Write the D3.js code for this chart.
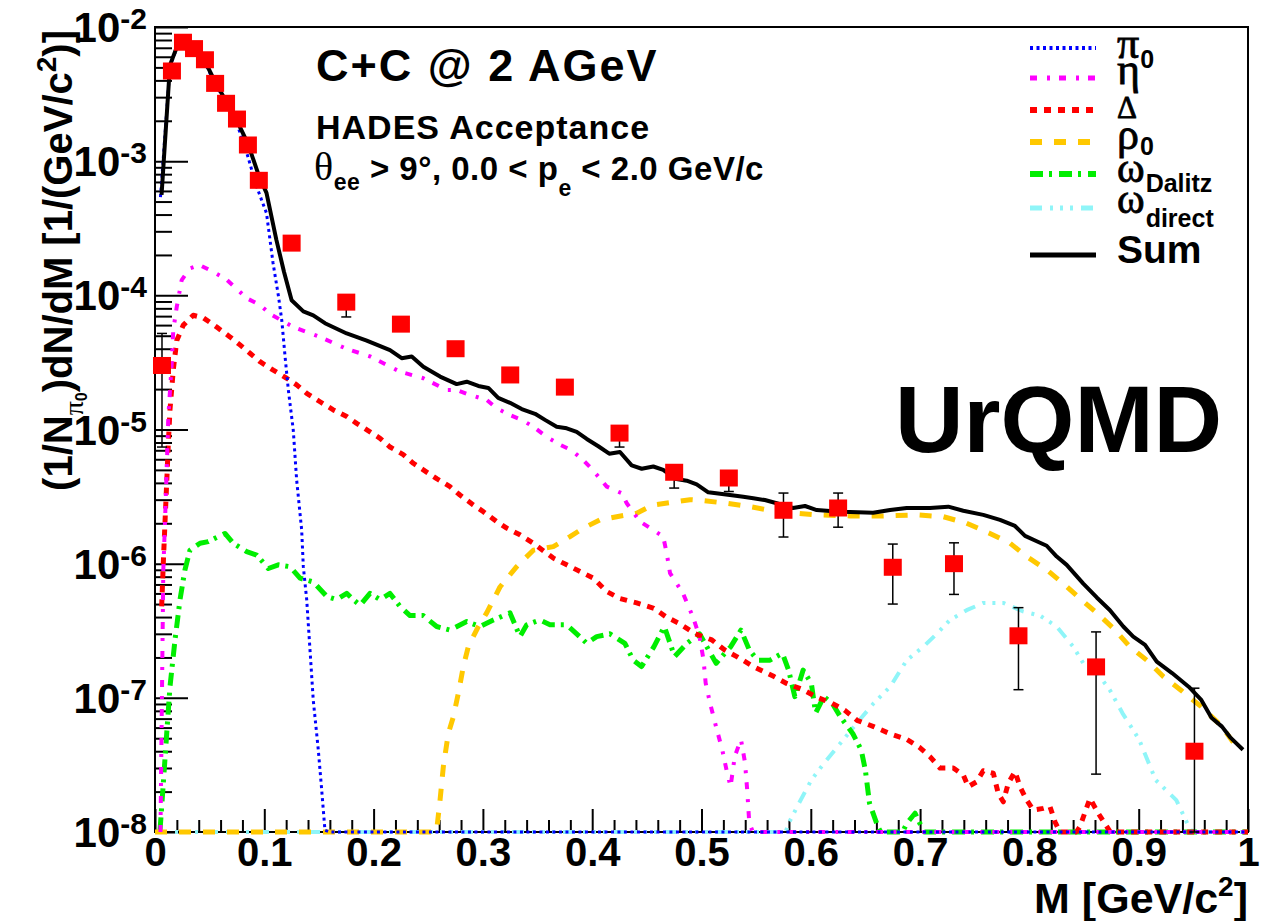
<!DOCTYPE html>
<html>
<head>
<meta charset="utf-8">
<script src="https://cdn.jsdelivr.net/npm/d3@7"></script>
<style>
	body { margin: 0; background: #fff; }
	svg { display: block; font-family: "Liberation Sans", Arial, sans-serif; font-weight: bold; }
	.greek { font-family: "Liberation Serif", "DejaVu Serif", serif; font-weight: normal; }
</style>
</head>
<body>
<svg id="chart" width="1277" height="921"></svg>
<script>
// invariant mass spectra, [M (GeV/c^2), dN/dM]
var piZeroCurve = [[0.005,5.4e-4],[0.0137,5.1e-3],[0.02,7.0e-3],[0.025,7.8e-3],[0.03,7.7e-3],[0.035,6.8e-3],[0.045,5.5e-3],[0.055,3.8e-3],[0.065,2.65e-3],[0.075,1.9e-3],[0.084,1.15e-3],[0.093,6.45e-4],[0.102,4.1e-4],[0.108,1.74e-4],[0.113,9.8e-5],[0.116,6.5e-5],[0.119,3.5e-5],[0.122,1.97e-5],[0.1265,9.9e-6],[0.1296,4.2e-6],[0.1342,1.78e-6],[0.1357,9.5e-7],[0.1388,5.4e-7],[0.1418,2.28e-7],[0.1448,9.6e-8],[0.1494,4.1e-8],[0.1525,2.06e-8],[0.1555,1.03e-8],[0.16,0],[1.0,0]];
var etaCurve = [[0.005,0],[0.0076,9e-7],[0.0091,2.0e-6],[0.0107,5.0e-6],[0.0122,1.24e-5],[0.0153,3.1e-5],[0.0167,5.5e-5],[0.0199,8.2e-5],[0.0244,1.3e-4],[0.032,1.59e-4],[0.041,1.68e-4],[0.053,1.5e-4],[0.066,1.3e-4],[0.084,9.5e-5],[0.096,8.5e-5],[0.105,7.3e-5],[0.1265,5.8e-5],[0.151,4.9e-5],[0.175,4.0e-5],[0.197,3.5e-5],[0.224,2.7e-5],[0.2455,2.41e-5],[0.2669,1.97e-5],[0.276,1.97e-5],[0.2882,1.81e-5],[0.3035,1.66e-5],[0.3126,1.44e-5],[0.3248,1.28e-5],[0.3355,1.18e-5],[0.3461,1.05e-5],[0.3584,8.8e-6],[0.3705,7.7e-6],[0.3812,7.0e-6],[0.3919,5.9e-6],[0.3995,5.1e-6],[0.4133,3.75e-6],[0.427,3.35e-6],[0.4316,2.82e-6],[0.4437,2.06e-6],[0.4559,1.78e-6],[0.465,1.59e-6],[0.4682,1.19e-6],[0.4712,8.5e-7],[0.4831,6.0e-7],[0.4922,4.0e-7],[0.4982,2.86e-7],[0.5019,1.91e-7],[0.5038,1.29e-7],[0.5077,9.2e-8],[0.5133,6.1e-8],[0.519,4.1e-8],[0.5229,2.9e-8],[0.5266,2.18e-8],[0.5304,3.65e-8],[0.5361,4.9e-8],[0.5398,3.3e-8],[0.5418,2.06e-8],[0.5437,1.17e-8],[0.547,0],[1.0,0]];
var deltaCurve = [[0.0061,4.8e-7],[0.0076,1.01e-6],[0.0091,2.0e-6],[0.0107,4.0e-6],[0.0122,7.9e-6],[0.0137,1.4e-5],[0.0167,2.77e-5],[0.0199,4.6e-5],[0.0259,6.0e-5],[0.035,7.1e-5],[0.0442,6.8e-5],[0.0565,5.8e-5],[0.0686,4.9e-5],[0.0778,4.27e-5],[0.0869,3.7e-5],[0.0961,3.2e-5],[0.1082,2.77e-5],[0.1205,2.41e-5],[0.1296,2.15e-5],[0.1388,1.86e-5],[0.151,1.61e-5],[0.1631,1.4e-5],[0.1754,1.25e-5],[0.1845,1.11e-5],[0.1967,9.6e-6],[0.2059,8.6e-6],[0.215,7.4e-6],[0.2272,6.5e-6],[0.2363,5.6e-6],[0.2455,5.0e-6],[0.2577,4.3e-6],[0.2699,3.75e-6],[0.279,3.25e-6],[0.2912,2.74e-6],[0.3004,2.44e-6],[0.3126,2.06e-6],[0.3218,1.84e-6],[0.3339,1.64e-6],[0.3461,1.42e-6],[0.3644,1.1e-6],[0.3767,9.8e-7],[0.3919,8.5e-7],[0.401,7.8e-7],[0.4133,6.2e-7],[0.4254,5.5e-7],[0.4407,5.1e-7],[0.4564,4.65e-7],[0.4678,4.0e-7],[0.4792,3.6e-7],[0.4944,3.0e-7],[0.5095,2.7e-7],[0.521,2.28e-7],[0.5323,2.03e-7],[0.5475,1.71e-7],[0.5664,1.44e-7],[0.5779,1.28e-7],[0.593,1.15e-7],[0.6044,1.02e-7],[0.6196,9.1e-8],[0.6309,8.1e-8],[0.6423,6.8e-8],[0.6575,6.1e-8],[0.6726,5.4e-8],[0.6878,4.9e-8],[0.6992,4.3e-8],[0.709,3.65e-8],[0.7182,3.0e-8],[0.7304,3.0e-8],[0.7395,2.66e-8],[0.7441,2.18e-8],[0.7518,2.37e-8],[0.7578,2.86e-8],[0.767,2.74e-8],[0.7715,1.94e-8],[0.7761,1.68e-8],[0.7807,2.31e-8],[0.7868,2.82e-8],[0.7914,2.18e-8],[0.7975,1.73e-8],[0.8036,1.46e-8],[0.8127,1.5e-8],[0.8188,1.55e-8],[0.8234,1.19e-8],[0.828,0],[0.843,0],[0.8463,1.1e-8],[0.8554,1.78e-8],[0.863,1.38e-8],[0.8707,1.1e-8],[0.874,0],[1.0,0]];
var rhoCurve = [[0.0,0],[0.2555,0],[0.2577,1.03e-8],[0.2608,1.73e-8],[0.2638,3.07e-8],[0.2683,5.4e-8],[0.2729,7.2e-8],[0.2775,1.08e-7],[0.2821,1.71e-7],[0.2866,2.4e-7],[0.2958,3.4e-7],[0.3035,4.3e-7],[0.3156,6.7e-7],[0.3309,9.5e-7],[0.3461,1.26e-6],[0.3644,1.34e-6],[0.3797,1.59e-6],[0.3919,1.84e-6],[0.4071,2.12e-6],[0.4224,2.24e-6],[0.4407,2.38e-6],[0.4559,2.74e-6],[0.4773,2.9e-6],[0.4895,3.0e-6],[0.5016,2.95e-6],[0.523,2.82e-6],[0.5444,2.66e-6],[0.5688,2.44e-6],[0.6054,2.31e-6],[0.6359,2.27e-6],[0.6663,2.27e-6],[0.6969,2.31e-6],[0.7212,2.24e-6],[0.7426,2.0e-6],[0.7639,1.68e-6],[0.7823,1.42e-6],[0.7975,1.13e-6],[0.8158,9.0e-7],[0.831,7.1e-7],[0.8463,5.5e-7],[0.8616,4.3e-7],[0.8768,3.3e-7],[0.892,2.4e-7],[0.9073,1.91e-7],[0.9225,1.44e-7],[0.9381,1.15e-7],[0.9572,8.6e-8],[0.9762,6.1e-8],[0.9913,4.1e-8]];
var omegaDalitzCurve = [[0.0046,1.03e-8],[0.0076,2.3e-8],[0.0107,5.4e-8],[0.0137,1.21e-7],[0.0183,2.7e-7],[0.0229,5.4e-7],[0.0274,9.0e-7],[0.032,1.26e-6],[0.0412,1.42e-6],[0.0488,1.46e-6],[0.064,1.68e-6],[0.0716,1.42e-6],[0.0839,1.23e-6],[0.093,1.16e-6],[0.1037,9.2e-7],[0.1128,9.8e-7],[0.1235,9.5e-7],[0.1327,7.8e-7],[0.1448,7.3e-7],[0.1571,5.7e-7],[0.1662,5.4e-7],[0.1754,6.0e-7],[0.1814,5.4e-7],[0.1876,4.9e-7],[0.1967,6.0e-7],[0.2059,5.4e-7],[0.215,6.0e-7],[0.2242,4.8e-7],[0.2333,4.1e-7],[0.2455,4.1e-7],[0.2577,3.4e-7],[0.2699,3.2e-7],[0.2852,3.7e-7],[0.2973,3.4e-7],[0.3095,3.8e-7],[0.3248,4.3e-7],[0.3339,2.86e-7],[0.3401,3.5e-7],[0.3522,3.8e-7],[0.3614,3.5e-7],[0.3767,3.5e-7],[0.3858,3.0e-7],[0.395,2.55e-7],[0.4041,2.86e-7],[0.4163,3.0e-7],[0.4299,2.55e-7],[0.4375,1.91e-7],[0.4451,1.71e-7],[0.4564,2.4e-7],[0.466,3.4e-7],[0.4754,2.03e-7],[0.4867,2.55e-7],[0.4982,3.0e-7],[0.5134,1.81e-7],[0.5266,2.4e-7],[0.5361,3.2e-7],[0.5437,2.28e-7],[0.5512,1.91e-7],[0.5627,1.91e-7],[0.574,2.15e-7],[0.5797,1.61e-7],[0.5854,1.02e-7],[0.593,1.61e-7],[0.6005,1.28e-7],[0.6044,7.7e-8],[0.612,1.02e-7],[0.6196,9.1e-8],[0.6272,7.2e-8],[0.6385,5.4e-8],[0.6461,4.1e-8],[0.6499,2.9e-8],[0.6537,1.64e-8],[0.6613,1.1e-8],[0.664,0],[0.684,0],[0.6878,1.16e-8],[0.6954,1.38e-8],[0.7011,1.1e-8],[0.704,0],[1.0,0]];
var omegaDirectCurve = [[0.0,0],[0.577,0],[0.5797,1.16e-8],[0.5892,1.64e-8],[0.6005,2.44e-8],[0.612,3.25e-8],[0.6272,4.6e-8],[0.6423,6.5e-8],[0.6575,9.1e-8],[0.6726,1.21e-7],[0.6878,1.91e-7],[0.7029,2.4e-7],[0.7152,3.0e-7],[0.7273,3.8e-7],[0.7426,4.5e-7],[0.7578,5.1e-7],[0.7761,5.1e-7],[0.7944,4.4e-7],[0.8097,4.1e-7],[0.825,3.4e-7],[0.8402,2.4e-7],[0.8493,1.81e-7],[0.8623,1.52e-7],[0.8737,1.14e-7],[0.8851,7.7e-8],[0.9003,4.9e-8],[0.9155,2.44e-8],[0.9344,1.73e-8],[0.9458,1.1e-8],[0.949,0],[1.0,0]];
var sumCurve = [[0.006,5.6e-4],[0.0137,5.2e-3],[0.02,7.1e-3],[0.025,8.0e-3],[0.03,7.9e-3],[0.035,7.0e-3],[0.045,5.7e-3],[0.055,3.9e-3],[0.065,2.8e-3],[0.075,2.0e-3],[0.085,1.35e-3],[0.095,7.8e-4],[0.102,5.8e-4],[0.111,2.6e-4],[0.118,1.5e-4],[0.125,9.2e-5],[0.1357,7.6e-5],[0.1448,7.1e-5],[0.1555,6.2e-5],[0.1754,5.2e-5],[0.1937,4.6e-5],[0.215,3.9e-5],[0.2257,3.4e-5],[0.2349,3.5e-5],[0.2455,2.94e-5],[0.2608,2.48e-5],[0.276,2.18e-5],[0.2852,2.27e-5],[0.2958,2.11e-5],[0.305,2.04e-5],[0.314,1.72e-5],[0.3248,1.58e-5],[0.3355,1.42e-5],[0.3477,1.31e-5],[0.3568,1.18e-5],[0.3675,1.05e-5],[0.3767,1.02e-5],[0.3858,9.6e-6],[0.395,8.5e-6],[0.4056,7.5e-6],[0.4156,6.6e-6],[0.4254,6.8e-6],[0.4361,5.4e-6],[0.4453,5.1e-6],[0.4559,5.3e-6],[0.465,5.0e-6],[0.4758,4.3e-6],[0.4865,4.15e-6],[0.4956,3.9e-6],[0.5062,3.4e-6],[0.526,3.25e-6],[0.5382,3.15e-6],[0.5474,3.07e-6],[0.558,2.98e-6],[0.5688,2.82e-6],[0.5837,2.6e-6],[0.5947,2.69e-6],[0.6054,2.51e-6],[0.6267,2.44e-6],[0.636,2.43e-6],[0.657,2.4e-6],[0.6725,2.51e-6],[0.6877,2.6e-6],[0.709,2.6e-6],[0.7258,2.66e-6],[0.7395,2.48e-6],[0.7578,2.31e-6],[0.7731,2.12e-6],[0.7868,1.91e-6],[0.796,1.61e-6],[0.8067,1.47e-6],[0.8158,1.36e-6],[0.825,1.13e-6],[0.8341,9.8e-7],[0.8493,7.1e-7],[0.8616,5.6e-7],[0.8737,4.5e-7],[0.8859,3.4e-7],[0.895,2.86e-7],[0.9058,2.48e-7],[0.9165,1.86e-7],[0.9305,1.53e-7],[0.9457,1.21e-7],[0.957,9.7e-8],[0.9666,7.1e-8],[0.9762,6.1e-8],[0.9835,5.1e-8],[0.9954,4.1e-8]];

// measured points
var dataMass = [0.0064,0.0155,0.0256,0.0357,0.0457,0.055,0.065,0.075,0.085,0.095,0.125,0.175,0.225,0.275,0.325,0.375,0.425,0.475,0.525,0.575,0.625,0.675,0.731,0.790,0.861,0.951];
var dataYield = [3.0e-5,4.7e-3,7.7e-3,6.9e-3,5.7e-3,3.8e-3,2.7e-3,2.06e-3,1.32e-3,7.2e-4,2.45e-4,8.9e-5,6.1e-5,4.0e-5,2.55e-5,2.07e-5,9.4e-6,4.8e-6,4.35e-6,2.5e-6,2.6e-6,9.4e-7,1.0e-6,2.9e-7,1.7e-7,4.0e-8];
var dataLow = [7.4e-6,4.5e-3,7.4e-3,6.6e-3,5.5e-3,3.65e-3,2.6e-3,1.98e-3,1.27e-3,6.9e-4,2.35e-4,6.9e-5,5.7e-5,3.7e-5,2.4e-5,1.95e-5,7.4e-6,3.66e-6,3.45e-6,1.58e-6,1.87e-6,5.0e-7,5.9e-7,1.15e-7,2.7e-8,0];
var dataHigh = [5.2e-5,4.9e-3,8.0e-3,7.2e-3,5.9e-3,3.95e-3,2.8e-3,2.14e-3,1.37e-3,7.5e-4,2.55e-4,9.5e-5,6.4e-5,4.2e-5,2.7e-5,2.2e-5,1.0e-5,5.1e-6,4.6e-6,3.36e-6,3.36e-6,1.4e-6,1.43e-6,4.7e-7,3.1e-7,1.18e-7];

var xMajorTicks = [0,0.1,0.2,0.3,0.4,0.5,0.6,0.7,0.8,0.9,1];
var yExponents = [-8,-7,-6,-5,-4,-3,-2];

var svg = d3.select('#chart');
var x = d3.scaleLinear().domain([0, 1]).range([155, 1248]);
var y = d3.scaleLog().domain([1e-8, 1e-2]).range([832, 27]).clamp(true);

var linegen = d3.line()
	.x(function(d){ return x(d[0]) })
	.y(function(d){ return y(d[1]) });

var series = [
	{ data: omegaDirectCurve, color: '#8ff5f8', width: 4, dash: '12,8,3,7,3,7,3,8' },
	{ data: omegaDalitzCurve, color: '#00ee00', width: 5, dash: '13,6,3,7' },
	{ data: rhoCurve, color: '#ffc800', width: 5, dash: '12,12' },
	{ data: deltaCurve, color: '#ff0000', width: 5, dash: '7,7' },
	{ data: etaCurve, color: '#ff00ff', width: 4, dash: '7,10,3,9' },
	{ data: piZeroCurve, color: '#0000ff', width: 3, dash: '3,3.5' },
	{ data: sumCurve, color: '#000000', width: 4, dash: null }
];

draw_axes();
draw_curves();
draw_points();
draw_texts();
draw_legend();

function draw_axes(){
	svg.append('rect')
		.attr('x', 155).attr('y', 27)
		.attr('width', 1093).attr('height', 805)
		.attr('fill', 'none')
		.attr('stroke', '#000')
		.attr('stroke-width', 2);

	var xMinor = d3.range(51).map(function(i){ return i / 50 })
		.filter(function(d, i){ return i % 5 !== 0 });
	var yMajor = yExponents.map(function(e){ return Math.pow(10, e) });
	var yMinor = [];
	yExponents.slice(0, -1).forEach(function(e){
		for (var k = 2; k <= 9; k++) yMinor.push(k * Math.pow(10, e));
	});

	var gx = svg.append('g').attr('transform', 'translate(0,832)');
	gx.append('g').call(d3.axisBottom(x).tickValues(xMinor).tickSize(-12).tickSizeOuter(0).tickFormat(''));
	gx.append('g').call(d3.axisBottom(x).tickValues(xMajorTicks).tickSize(-23).tickSizeOuter(0).tickPadding(6)
		.tickFormat(function(d){ return d === 0 ? '0' : d === 1 ? '1' : d.toFixed(1) }));

	var gy = svg.append('g').attr('transform', 'translate(155,0)');
	gy.append('g').call(d3.axisLeft(y).tickValues(yMinor).tickSize(-17).tickSizeOuter(0).tickFormat(''));
	gy.append('g').call(d3.axisLeft(y).tickValues(yMajor).tickSize(-33).tickSizeOuter(0).tickFormat(''));

	svg.selectAll('.domain').remove();
	svg.selectAll('.tick line').attr('stroke', '#000').attr('stroke-width', 2);
	gx.selectAll('text')
		.attr('font-size', 40)
		.attr('font-family', '"Liberation Sans", Arial, sans-serif')
		.attr('font-weight', 'bold')
		.attr('fill', '#000');

	var labels = svg.append('g').selectAll('.ylab')
		.data(yExponents)
		.enter()
		.append('text')
		.attr('class', 'ylab')
		.attr('x', 147)
		.attr('y', function(e){ return y(Math.pow(10, e)) + 15 })
		.attr('text-anchor', 'end');
	labels.append('tspan').attr('font-size', 42).text('10');
	labels.append('tspan').attr('font-size', 30).attr('dy', -13).text(function(e){ return String(e) });
}

function draw_curves(){
	svg.append('clipPath').attr('id', 'frame')
		.append('rect').attr('x', 155).attr('y', 27).attr('width', 1093).attr('height', 812);
	svg.append('g')
		.attr('clip-path', 'url(#frame)')
		.selectAll('.curve')
		.data(series)
		.enter()
		.append('path')
		.attr('class', 'curve')
		.attr('d', function(d){ return linegen(d.data) })
		.attr('fill', 'none')
		.attr('stroke', function(d){ return d.color })
		.attr('stroke-width', function(d){ return d.width })
		.attr('stroke-dasharray', function(d){ return d.dash })
		.attr('stroke-linejoin', 'round');
}

function draw_points(){
	var pts = dataMass.map(function(m, i){
		return { m: m, v: dataYield[i], lo: dataLow[i], hi: dataHigh[i] };
	});
	var g = svg.append('g').attr('stroke', '#000').attr('stroke-width', 1.5);
	var s = g.selectAll('.err').data(pts).enter();
	s.append('line')
		.attr('x1', function(d){ return x(d.m) }).attr('x2', function(d){ return x(d.m) })
		.attr('y1', function(d){ return y(d.lo) }).attr('y2', function(d){ return y(d.hi) });
	s.append('line')
		.attr('x1', function(d){ return x(d.m) - 5 }).attr('x2', function(d){ return x(d.m) + 5 })
		.attr('y1', function(d){ return y(d.lo) }).attr('y2', function(d){ return y(d.lo) });
	s.append('line')
		.attr('x1', function(d){ return x(d.m) - 5 }).attr('x2', function(d){ return x(d.m) + 5 })
		.attr('y1', function(d){ return y(d.hi) }).attr('y2', function(d){ return y(d.hi) });

	svg.append('g').selectAll('.pt')
		.data(pts)
		.enter()
		.append('rect')
		.attr('class', 'pt')
		.attr('x', function(d){ return x(d.m) - 9 })
		.attr('y', function(d){ return y(d.v) - 8.5 })
		.attr('width', 18)
		.attr('height', 17)
		.attr('fill', '#ff0000');
}

function draw_texts(){
	svg.append('text').attr('x', 316).attr('y', 81).attr('font-size', 45).attr('letter-spacing', 2).text('C+C @ 2 AGeV');
	svg.append('text').attr('x', 316).attr('y', 139).attr('font-size', 34).attr('letter-spacing', 1).text('HADES Acceptance');

	var t = svg.append('text').attr('x', 314).attr('y', 180).attr('font-size', 33).attr('letter-spacing', 0.5);
	t.append('tspan').attr('class', 'greek').attr('font-size', 40).text('θ');
	t.append('tspan').attr('font-size', 23).attr('dy', 10).text('ee');
	t.append('tspan').attr('dy', -10).text(' > 9°, 0.0 < p');
	t.append('tspan').attr('font-size', 23).attr('dy', 16).text('e');
	t.append('tspan').attr('dy', -16).text(' < 2.0 GeV/c');

	svg.append('text').attr('x', 895).attr('y', 452).attr('font-size', 95).text('UrQMD');

	var xl = svg.append('text').attr('x', 1248).attr('y', 913).attr('font-size', 43).attr('text-anchor', 'end');
	xl.append('tspan').text('M [GeV/c');
	xl.append('tspan').attr('font-size', 28).attr('dy', -17).text('2');
	xl.append('tspan').attr('dy', 17).text(']');

	var yl = svg.append('text')
		.attr('transform', 'translate(72,30) rotate(-90)')
		.attr('text-anchor', 'end')
		.attr('font-size', 40);
	yl.append('tspan').text('(1/N');
	yl.append('tspan').attr('class', 'greek').attr('font-size', 28).attr('dy', 11).text('π');
	yl.append('tspan').attr('font-size', 16).attr('dy', 4).text('0');
	yl.append('tspan').attr('dy', -15).text(')dN/dM [1/(GeV/c');
	yl.append('tspan').attr('font-size', 28).attr('dy', -16).text('2');
	yl.append('tspan').attr('dy', 16).text(')]');
}

function draw_legend(){
	var entries = [
		{ s: series[5], y: 48, sym: 'π', sub: '0', base: 58, subbase: 68, size: 44 },
		{ s: series[4], y: 78, sym: 'η', sub: '', base: 84, subbase: 84, size: 44 },
		{ s: series[3], y: 110, sym: 'Δ', sub: '', base: 118, subbase: 118, size: 31 },
		{ s: series[2], y: 142, sym: 'ρ', sub: '0', base: 149, subbase: 155, size: 44 },
		{ s: series[1], y: 174, sym: 'ω', sub: 'Dalitz', base: 182, subbase: 192, size: 42 },
		{ s: series[0], y: 208, sym: 'ω', sub: 'direct', base: 213, subbase: 227, size: 42 }
	];
	var g = svg.append('g');
	g.selectAll('.leg')
		.data(entries.concat([{ s: series[6], y: 255 }]))
		.enter()
		.append('line')
		.attr('x1', 1030).attr('x2', 1096)
		.attr('y1', function(d){ return d.y }).attr('y2', function(d){ return d.y })
		.attr('stroke', function(d){ return d.s.color })
		.attr('stroke-width', function(d){ return d.s.width + 1 })
		.attr('stroke-dasharray', function(d){ return d.s.dash });

	var syms = g.selectAll('.legsym')
		.data(entries)
		.enter()
		.append('text')
		.attr('class', 'legsym')
		.attr('x', 1117)
		.attr('y', function(d){ return d.base })
		.attr('stroke', '#000')
		.attr('stroke-width', 0.8)
		.style('font-family', '"Liberation Serif", "DejaVu Serif", serif')
		.style('font-weight', 'normal')
		.style('font-size', function(d){ return d.size + 'px' })
		.text(function(d){ return d.sym });

	syms.each(function(d){ d.w = this.getComputedTextLength() });

	g.selectAll('.legsub')
		.data(entries.filter(function(d){ return d.sub }))
		.enter()
		.append('text')
		.attr('class', 'legsub')
		.attr('x', function(d){ return 1117 + d.w + 1 })
		.attr('y', function(d){ return d.subbase })
		.attr('font-size', 25)
		.text(function(d){ return d.sub });

	g.append('text').attr('x', 1117).attr('y', 263).attr('font-size', 39).text('Sum');
}
</script>
</body>
</html>
